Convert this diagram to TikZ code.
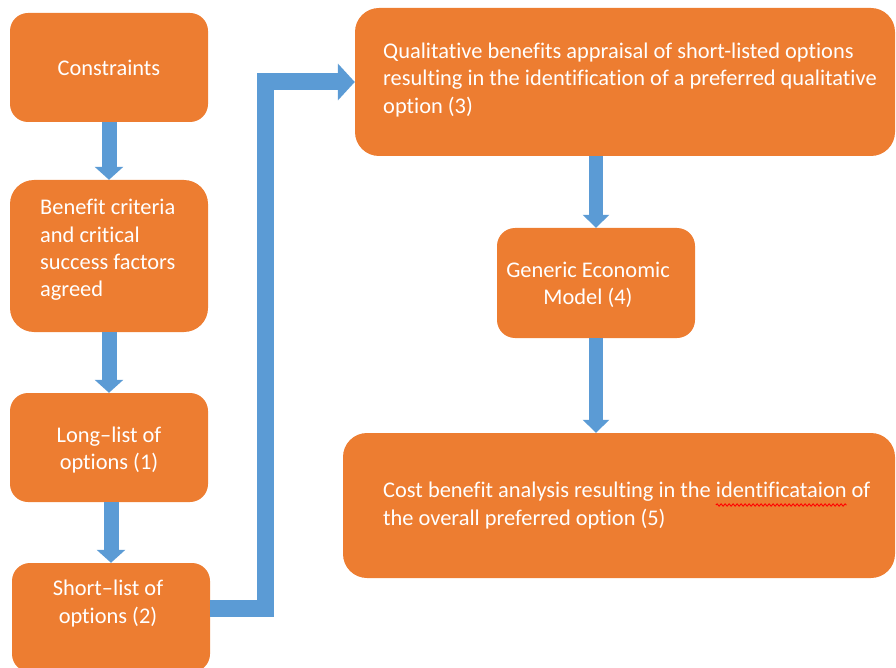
\documentclass[tikz,border=0pt]{standalone}
\usepackage{fontspec}
\setmainfont{Carlito}[Ligatures={NoCommon,NoContextual}]
\usetikzlibrary{arrows.meta,decorations.pathmorphing}
\definecolor{boxorange}{HTML}{ED7D31}
\definecolor{arrowblue}{HTML}{5B9BD5}
\newlength\prewidth
\newlength\wordwidth
\begin{document}
\settowidth\prewidth{\fontsize{22.4}{27.2}\selectfont Cost benefit analysis resulting in the }%
\settowidth\wordwidth{\fontsize{22.4}{27.2}\selectfont identificataion}%
\begin{tikzpicture}[x=1pt,y=-1pt,
  box/.style={fill=boxorange, draw=none, rounded corners=#1, inner sep=0pt},
  box/.default=18pt,
  txt/.style={text=white, font=\fontsize{22.4}{27.2}\selectfont, inner sep=0pt},
  downarrow/.style={draw=arrowblue, line width=15pt, -{Triangle[width=28pt,length=13pt]}},
  downarrowR/.style={draw=arrowblue, line width=14pt, -{Triangle[width=26pt,length=13pt]}},
  elbow/.style={draw=arrowblue, line width=17pt, line join=miter, -{Triangle[width=36pt,length=17pt]}},
  squiggle/.style={draw=red, line width=0.9pt, decorate, decoration={snake, amplitude=1.2pt, segment length=4pt}}]
\useasboundingbox (0,0) rectangle (896,668);

% boxes
\node[box, minimum width=198pt, minimum height=109pt] (b1) at (109,67.5) {};
\node[box=24pt, minimum width=198pt, minimum height=152pt] (b2) at (109,256) {};
\node[box, minimum width=198pt, minimum height=109pt] (b3) at (109,447.5) {};
\node[box, minimum width=198pt, minimum height=109pt] (b4) at (111,617.5) {};
\node[box=24pt, minimum width=540pt, minimum height=148pt] (b5) at (625,82) {};
\node[box, minimum width=198pt, minimum height=110pt] (b6) at (596,283) {};
\node[box=24pt, minimum width=552pt, minimum height=145pt] (b7) at (619,505.5) {};

% texts
\node[txt] (t1) at (109,68) {Constraints};
\node[txt, anchor=west, align=left] (t2) at (40,250) {Benefit criteria\\and critical\\success factors\\agreed};
\node[txt, align=center] (t3) at (109,450) {Long–list of\\options (1)};
\node[txt, align=center] (t4) at (108,603.5) {Short–list of\\options (2)};
\node[txt, anchor=west, align=left] (t5) at (383,80) {Qualitative benefits appraisal of short-listed options\\resulting in the identification of a preferred qualitative\\option (3)};
\node[txt, align=center] (t6) at (588,285) {Generic Economic\\Model (4)};
\node[txt, anchor=west, align=left] (t7) at (383,505.5) {Cost benefit analysis resulting in the identificataion of\\the overall preferred option (5)};

% connectors
\draw[downarrow] (b1) -- (b2);
\draw[downarrow] (b2) -- (b3);
\draw[downarrow] (b3.south -| b4.north) -- (b4.north);
\draw[downarrowR] (b5.south -| b6.north) -- (b6.north);
\draw[downarrowR] (b6.south) -- (b6.south |- b7.north);
\coordinate (bend) at (265.5,82);
\draw[elbow] ([yshift=9.5pt]b4.east) -| (bend) -- (b5.west);

% spelling squiggle under the misspelt word
\path (t7.west) ++(\prewidth,0) coordinate (sqa);
\coordinate (sqstart) at (sqa |- 0,505);
\draw[squiggle] (sqstart) -- ++(\wordwidth,0);
\end{tikzpicture}
\end{document}
